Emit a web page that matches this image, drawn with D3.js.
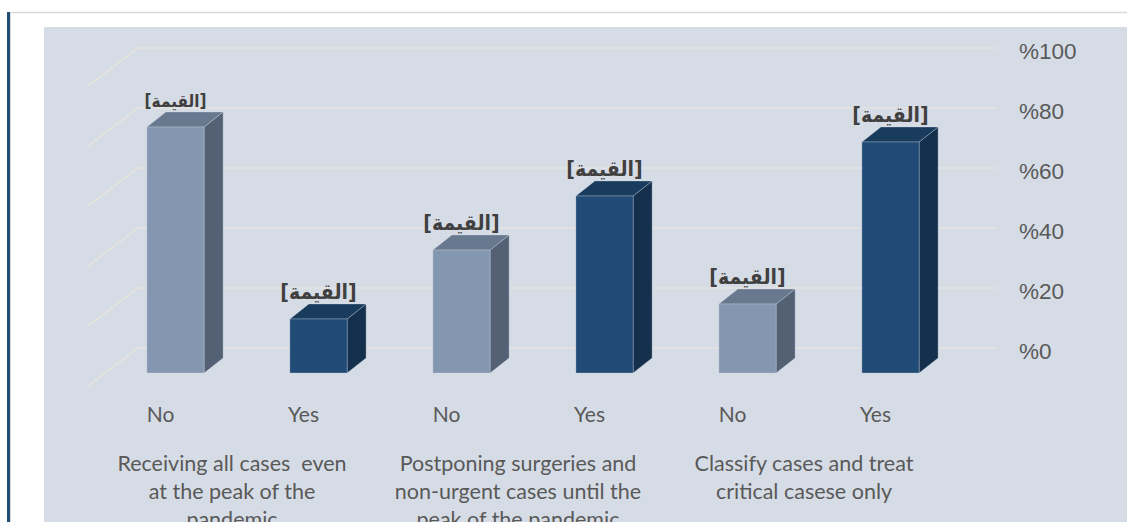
<!DOCTYPE html>
<html>
<head>
  <script src="https://d3js.org/d3.v7.min.js"></script>
  <style>
    body { margin: 0; background: #fff; }
    svg { display: block; }
    .cat, .grp { font-family: Lato, "Open Sans", sans-serif; fill: #595959; white-space: pre; }
    .tick-lbl { font-family: "Liberation Sans", Arial, sans-serif; fill: #595959; }
    .val { font-family: "DejaVu Sans Condensed", "DejaVu Sans", sans-serif; font-weight: bold; fill: #404040; }
  </style>
</head>
<body>
  <svg width="1127" height="522"></svg>
  <script>
    // data
    var groups = [
      "Receiving all cases  even\nat the peak of the\npandemic",
      "Postponing surgeries and\nnon-urgent cases until the\npeak of the pandemic",
      "Classify cases and treat\ncritical casese only"
    ];
    var answers = ["No", "Yes"];
    var values = [[82, 18], [41, 59], [23, 77]];   // percent
    var ticks = [0, 20, 40, 60, 80, 100];
    var valueLabel = "[القيمة]";

    var svg = d3.select("svg");

    // frame
    svg.append("rect").attr("x", 7).attr("y", 12).attr("width", 3).attr("height", 510).attr("fill", "#1f4e79");
    svg.append("line").attr("x1", 10).attr("x2", 1127).attr("y1", 12.5).attr("y2", 12.5)
      .attr("stroke", "#d9d9d9").attr("stroke-width", 1.5);
    svg.append("line").attr("x1", 10.5).attr("x2", 10.5).attr("y1", 12).attr("y2", 522)
      .attr("stroke", "#d9d9d9");
    svg.append("rect").attr("x", 44).attr("y", 27).attr("width", 1083).attr("height", 495).attr("fill", "#d6dce5");

    // flat list of bars
    var bars = [];
    groups.forEach(function(g, gi) {
      answers.forEach(function(a, ai) {
        bars.push({ key: gi + "-" + a, group: gi, answer: a, value: values[gi][ai] });
      });
    });

    // 3d geometry: back wall and depth direction
    var depth = { dx: -50, dy: 38 };        // back wall -> front of floor
    var barFront = 25 / 38, barDepth = { dx: 19, dy: -15 };

    var yBack = d3.scaleLinear().domain([0, 100]).range([348, 48]);
    var yFront = d3.scaleLinear().domain([0, 100]).range([348 + depth.dy * barFront, 48 + depth.dy * barFront]);
    var x = d3.scaleBand().domain(bars.map(function(d) { return d.key; }))
      .range([104, 962]).paddingInner(0.6).paddingOuter(0.3);

    // gridlines (side wall + back wall)
    var wallX = 138, gridEnd = 997;
    var grid = svg.append("g");
    ticks.forEach(function(t) {
      var y = yBack(t);
      grid.append("path")
        .attr("d", "M" + (wallX + depth.dx) + "," + (y + depth.dy) + "L" + wallX + "," + y + "L" + gridEnd + "," + y)
        .attr("fill", "none").attr("stroke", "#e4e2de").attr("stroke-width", 1.6);
    });

    // y axis on the right
    svg.append("g").selectAll("text").data(ticks).enter().append("text")
      .attr("class", "tick-lbl")
      .attr("x", 1019).attr("y", function(d) { return yBack(d) + 3; })
      .attr("dy", "0.35em").style("font-size", "22.5px")
      .text(function(d) { return "%" + d; });

    var colors = {
      No:  { front: "#8497b0", side: "#546175", top: "#68788e" },
      Yes: { front: "#1f4b76", side: "#15304c", top: "#183b5e" }
    };

    var g = svg.append("g");
    bars.forEach(function(d, i) {
      var x0 = x(d.key), x1 = x0 + x.bandwidth();
      var yb = yFront(0), yt = yFront(d.value);
      var c = colors[d.answer];
      // side
      g.append("path")
        .attr("d", "M" + x1 + "," + yb + "L" + x1 + "," + yt + "L" + (x1 + barDepth.dx) + "," + (yt + barDepth.dy) +
          "L" + (x1 + barDepth.dx) + "," + (yb + barDepth.dy) + "Z")
        .attr("fill", c.side).attr("stroke", "rgba(210,220,232,0.45)").attr("stroke-width", 0.7);
      // top
      g.append("path")
        .attr("d", "M" + x0 + "," + yt + "L" + x1 + "," + yt + "L" + (x1 + barDepth.dx) + "," + (yt + barDepth.dy) +
          "L" + (x0 + barDepth.dx) + "," + (yt + barDepth.dy) + "Z")
        .attr("fill", c.top).attr("stroke", "rgba(210,220,232,0.45)").attr("stroke-width", 0.7);
      // front
      g.append("rect").attr("x", x0).attr("y", yt).attr("width", x.bandwidth()).attr("height", yb - yt)
        .attr("fill", c.front).attr("stroke", "rgba(210,220,232,0.45)").attr("stroke-width", 0.7);
      // value label
      g.append("text").attr("class", "val")
        .attr("x", x0 + x.bandwidth() / 2).attr("y", yt + barDepth.dy - 5)
        .attr("text-anchor", "middle")
        .style("font-size", i === 0 ? "17px" : "21px")
        .text(valueLabel);
      // category label
      svg.append("text").attr("class", "cat")
        .attr("x", x0 + x.bandwidth() / 2 - 15).attr("y", 415).attr("dy", "0.35em")
        .attr("text-anchor", "middle").style("font-size", "21px")
        .text(d.answer);
    });

    // group labels
    groups.forEach(function(grp, gi) {
      var a = x(gi + "-No") + x.bandwidth() / 2 - 15, b = x(gi + "-Yes") + x.bandwidth() / 2 - 15;
      var t = svg.append("text").attr("class", "grp")
        .attr("text-anchor", "middle").style("font-size", "21.5px");
      grp.split("\n").forEach(function(line, li) {
        t.append("tspan").attr("x", (a + b) / 2).attr("y", 463 + li * 28).attr("dy", "0.35em").text(line);
      });
    });
  </script>
</body>
</html>
